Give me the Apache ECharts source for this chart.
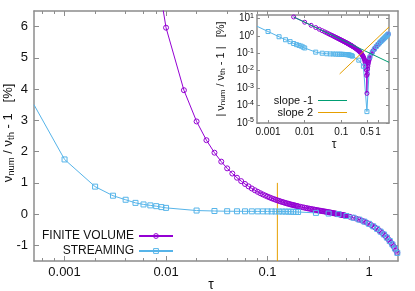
<!DOCTYPE html>
<html><head><meta charset="utf-8">
<script src="https://cdn.jsdelivr.net/npm/echarts@6/dist/echarts.min.js"></script>
<style>html,body{margin:0;padding:0;background:#fff}#c{width:415px;height:291px}</style>
</head><body><div id="c"></div>
<script>
// ---- data ----
const fvTau = [0.005,0.01,0.015,0.02,0.025,0.03,0.035,0.04,0.045,0.05,0.055,0.06,0.065,0.07,0.075,0.08,0.085,0.09,0.095,0.1,
  0.105,0.11,0.115,0.12,0.125,0.13,0.135,0.14,0.145,0.15,0.155,0.16,0.165,0.17,0.175,0.18,0.185,0.19,0.195,0.2,
  0.21,0.22,0.23,0.24,0.25,0.26,0.27,0.28,0.29,0.3,0.31,0.32,0.33,0.34,0.35,0.36,0.37,0.38,0.39,0.4,
  0.41,0.42,0.43,0.44,0.45,0.46,0.47,0.48,0.49,0.5,0.51,0.52,0.53,0.54,0.55,0.56,0.57,0.58,0.59,0.6,
  0.65,0.7,0.75,0.8,0.85,0.9,0.95,1.0,1.05,1.1,1.15,1.2,1.25,1.3,1.35,1.4,1.45,1.5,1.55,1.6,1.65,1.7,1.75,1.8,1.85,1.9];
const fvVal = [11.97,5.966,3.966,2.966,2.366,1.966,1.680,1.465,1.299,1.165,1.056,0.965,0.888,0.821,0.764,0.714,0.669,0.630,0.594,0.562,
  0.534,0.507,0.483,0.461,0.441,0.422,0.404,0.388,0.373,0.358,0.345,0.332,0.320,0.309,0.298,0.288,0.279,0.269,0.261,0.252,
  0.236,0.222,0.209,0.196,0.184,0.173,0.163,0.153,0.144,0.135,0.126,0.118,0.110,0.102,0.095,0.088,0.081,0.074,0.067,0.061,
  0.054,0.048,0.042,0.035,0.029,0.023,0.017,0.011,0.0053,-0.0005,-0.0064,-0.0122,-0.018,-0.0238,-0.0296,-0.0354,-0.0411,-0.047,-0.0527,-0.0586,
  -0.086,-0.115,-0.145,-0.175,-0.207,-0.240,-0.274,-0.310,-0.349,-0.390,-0.430,-0.470,-0.515,-0.560,-0.605,-0.650,-0.700,-0.750,-0.805,-0.860,-0.915,-0.970,-1.035,-1.100,-1.170,-1.240];
const stTau = [0.0005,0.001,0.002,0.003,0.004,0.005,0.006,0.007,0.008,0.009,
  0.01,0.02,0.03,0.04,0.05,0.06,0.07,0.08,0.09,0.1,0.11,0.12,0.13,0.14,0.15,0.16,0.17,0.18,0.19,0.2,
  0.3,0.4,0.5,0.6,0.7,0.8,0.9,1.0,1.1,1.2,1.3,1.4,1.5,1.6,1.7,1.8,1.9];
const stVal = [3.5,1.75,0.88,0.59,0.46,0.36,0.31,0.28,0.255,0.225,
  0.20,0.115,0.10,0.093,0.091,0.09,0.089,0.088,0.088,0.087,0.086,0.085,0.084,0.083,0.082,0.080,0.078,0.075,0.072,0.068,
  0.04,0.018,-0.000045,-0.06,-0.115,-0.175,-0.24,-0.31,-0.39,-0.47,-0.56,-0.65,-0.75,-0.86,-0.97,-1.10,-1.24];
const slopeM1Tau = [0.005, 2.0];
const slopeM1Val = [12, 0.03];
const slope2Tau = [0.09, 2.0];
const slope2Val = [0.00648, 3.2];
const markTau = [0.125, 0.125];
const markVal = [1, -1.5];
const mainXTicks = [0.001, 0.01, 0.1, 1];
const mainXMinor = [0.0006,0.0008,0.002,0.004,0.006,0.008,0.02,0.04,0.06,0.08,0.2,0.4,0.6,0.8];
const mainYTicks = [-1, 0, 1, 2, 3, 4, 5, 6];
const insetXTicks = [0.001, 0.01, 0.1, 0.5, 1];
const insetYTicks = [1e-5, 1e-4, 1e-3, 1e-2, 1e-1, 1, 10];

// ---- styles ----
const FONT = 'Liberation Sans, Arial, Helvetica, sans-serif';
const GRAY = '#8c8c8c';
const PURPLE = '#9400d3', BLUE = '#56b4e9', GREEN = '#009e73', ORANGE = '#e69f00';
const TXT = '#111';

const pairs = (xs, ys, f) => xs.map((x, i) => [x, f ? f(ys[i]) : ys[i]]);
const fmtNum = v => String(+Number(v).toPrecision(6));

function xAx(o) {
  const base = {
    type: 'log', logBase: 10, splitLine: {show: false},
    axisTick: {show: true, inside: true, length: 5, lineStyle: {color: GRAY, width: 1}},
    axisLabel: {show: false}
  };
  const r = Object.assign(base, o);
  r.axisLine = Object.assign({onZero: false, lineStyle: {color: GRAY, width: 1.5}}, o.axisLine || {show: true});
  return r;
}

const option = {
  animation: false,
  backgroundColor: '#fff',
  textStyle: {fontFamily: FONT},
  grid: [
    {left: 34, top: 11, right: 17, bottom: 30, containLabel: false, outerBoundsMode: 'none'},
    {left: 257, top: 15, width: 132, height: 108, containLabel: false, outerBoundsMode: 'none',
      show: true, backgroundColor: '#fff', borderWidth: 0, z: 10}
  ],
  xAxis: [
    xAx({gridIndex: 0, position: 'bottom', min: 0.0005, max: 1.93,
      axisTick: {show: true, inside: true, length: 5, customValues: mainXTicks, lineStyle: {color: GRAY}},
      axisLabel: {show: true, customValues: mainXTicks, formatter: fmtNum, fontSize: 13, margin: 5, color: TXT, fontFamily: FONT, hideOverlap: false},
      name: 'τ', nameLocation: 'middle', nameGap: 17, nameMoveOverlap: false,
      nameTextStyle: {fontSize: 14, color: TXT, fontFamily: FONT, padding: [0, 10, 0, 0]}}),
    xAx({gridIndex: 0, position: 'top', min: 0.0005, max: 1.93,
      axisTick: {show: true, inside: true, length: 5, customValues: mainXTicks, lineStyle: {color: GRAY}}}),
    xAx({gridIndex: 0, position: 'bottom', min: 0.0005, max: 1.93, axisLine: {show: false},
      axisTick: {show: true, inside: true, length: 3, customValues: mainXMinor, lineStyle: {color: GRAY}}}),
    xAx({gridIndex: 0, position: 'top', min: 0.0005, max: 1.93, axisLine: {show: false},
      axisTick: {show: true, inside: true, length: 3, customValues: mainXMinor, lineStyle: {color: GRAY}}}),
    xAx({gridIndex: 1, position: 'bottom', min: 0.0005, max: 2.0, z: 11,
      axisTick: {show: true, inside: true, length: 3, customValues: insetXTicks, lineStyle: {color: GRAY}},
      axisLabel: {show: true, customValues: insetXTicks, formatter: fmtNum, fontSize: 10, margin: 4, color: TXT, fontFamily: FONT, hideOverlap: false},
      name: 'τ', nameLocation: 'middle', nameGap: 16, nameTextStyle: {fontSize: 12, color: TXT, fontFamily: FONT, padding: [0, 0, 0, 22]}}),
    xAx({gridIndex: 1, position: 'top', min: 0.0005, max: 2.0, z: 11,
      axisTick: {show: true, inside: true, length: 3, customValues: insetXTicks, lineStyle: {color: GRAY}}})
  ],
  yAxis: [
    {gridIndex: 0, type: 'value', position: 'left', min: -1.5, max: 6.5, splitLine: {show: false},
      axisLine: {show: true, onZero: false, lineStyle: {color: GRAY, width: 1.5}},
      axisTick: {show: true, inside: true, length: 5, customValues: mainYTicks, lineStyle: {color: GRAY}},
      axisLabel: {customValues: mainYTicks, fontSize: 13, margin: 6, color: TXT, fontFamily: FONT, hideOverlap: false},
      name: '{n|ν}{s|num}{n| / ν}{s|th}{n| - 1   [%]}', nameLocation: 'middle', nameGap: 18, nameRotate: 90, nameMoveOverlap: false,
      nameTextStyle: {padding: [0, 0, 0, 6], rich: {
        n: {fontSize: 13, lineHeight: 15, color: TXT, fontFamily: FONT},
        s: {fontSize: 9.5, lineHeight: 6, verticalAlign: 'bottom', color: TXT, fontFamily: FONT}}}},
    {gridIndex: 0, type: 'value', position: 'right', min: -1.5, max: 6.5, splitLine: {show: false},
      axisLine: {show: true, onZero: false, lineStyle: {color: GRAY, width: 1.5}},
      axisTick: {show: true, inside: true, length: 5, customValues: mainYTicks, lineStyle: {color: GRAY}},
      axisLabel: {show: false}},
    {gridIndex: 1, type: 'log', logBase: 10, position: 'left', min: 1e-5, max: 15.5, splitLine: {show: false}, z: 11,
      axisLine: {show: true, onZero: false, lineStyle: {color: GRAY, width: 1.5}},
      axisTick: {show: true, inside: true, length: 3, customValues: insetYTicks, lineStyle: {color: GRAY}},
      axisLabel: {customValues: insetYTicks, margin: 3, color: TXT, fontFamily: FONT, hideOverlap: false,
        formatter: v => '{b|10}{e|' + Math.round(Math.log10(v)) + '}',
        rich: {b: {fontSize: 10, lineHeight: 12, color: TXT, fontFamily: FONT},
               e: {fontSize: 7, lineHeight: 8, verticalAlign: 'top', color: TXT, fontFamily: FONT}}},
      name: '{n|| ν}{s|num}{n| / ν}{s|th}{n| - 1 |   [%]}', nameLocation: 'middle', nameGap: 30, nameRotate: 90,
      nameTextStyle: {rich: {
        n: {fontSize: 11, lineHeight: 13, color: TXT, fontFamily: FONT},
        s: {fontSize: 8, lineHeight: 5, verticalAlign: 'bottom', color: TXT, fontFamily: FONT}}}},
    {gridIndex: 1, type: 'log', logBase: 10, position: 'right', min: 1e-5, max: 15.5, splitLine: {show: false}, z: 11,
      axisLine: {show: true, onZero: false, lineStyle: {color: GRAY, width: 1.5}},
      axisTick: {show: true, inside: true, length: 3, customValues: insetYTicks, lineStyle: {color: GRAY}},
      axisLabel: {show: false}}
  ],
  legend: [
    {data: [
        {name: 'FINITE VOLUME', itemStyle: {color: 'rgba(0,0,0,0)', borderColor: PURPLE, borderWidth: 1}},
        {name: 'STREAMING', itemStyle: {color: 'rgba(0,0,0,0)', borderColor: BLUE, borderWidth: 1}}],
      orient: 'vertical', align: 'right', right: 241, top: 230,
      itemWidth: 34, itemHeight: 6, itemGap: 3, padding: 0,
      textStyle: {fontSize: 12, color: TXT, fontFamily: FONT}},
    {data: [{name: 'slope -1', icon: 'rect'}, {name: 'slope 2', icon: 'rect'}], orient: 'vertical', align: 'right',
      right: 68, top: 95, itemWidth: 29, itemHeight: 1, itemGap: 1, padding: 0, z: 12,
      textStyle: {fontSize: 11, color: TXT, fontFamily: FONT}}
  ],
  series: [
    {name: 'FINITE VOLUME', type: 'line', xAxisIndex: 0, yAxisIndex: 0, data: pairs(fvTau, fvVal),
      symbol: 'circle', symbolSize: 5, clip: true,
      lineStyle: {color: PURPLE, width: 1}, itemStyle: {color: 'rgba(148,0,211,0)', borderColor: PURPLE, borderWidth: 1}},
    {name: 'STREAMING', type: 'line', xAxisIndex: 0, yAxisIndex: 0,
      data: pairs(stTau, stVal).map((p, i) => i === 0 ? {value: p, symbol: 'none'} : p),
      symbol: 'rect', symbolSize: 5, clip: true,
      lineStyle: {color: BLUE, width: 1}, itemStyle: {color: 'rgba(86,180,233,0)', borderColor: BLUE, borderWidth: 1}},
    {name: 'mark', type: 'line', xAxisIndex: 0, yAxisIndex: 0, data: pairs(markTau, markVal),
      symbol: 'none', lineStyle: {color: ORANGE, width: 1}},
    {name: 'FINITE VOLUME |abs|', type: 'line', xAxisIndex: 4, yAxisIndex: 2, z: 12,
      data: pairs(fvTau, fvVal, Math.abs), symbol: 'circle', symbolSize: 4, clip: true,
      lineStyle: {color: PURPLE, width: 1}, itemStyle: {color: 'rgba(148,0,211,0)', borderColor: PURPLE, borderWidth: 1}},
    {name: 'STREAMING |abs|', type: 'line', xAxisIndex: 4, yAxisIndex: 2, z: 12,
      data: pairs(stTau, stVal, Math.abs).map((p, i) => i === 0 ? {value: p, symbol: 'none'} : p),
      symbol: 'rect', symbolSize: 4, clip: true,
      lineStyle: {color: BLUE, width: 1}, itemStyle: {color: 'rgba(86,180,233,0)', borderColor: BLUE, borderWidth: 1}},
    {name: 'slope -1', type: 'line', xAxisIndex: 4, yAxisIndex: 2, z: 13, data: pairs(slopeM1Tau, slopeM1Val),
      symbol: 'none', lineStyle: {color: GREEN, width: 1}, itemStyle: {color: GREEN}},
    {name: 'slope 2', type: 'line', xAxisIndex: 4, yAxisIndex: 2, z: 13, data: pairs(slope2Tau, slope2Val),
      symbol: 'none', lineStyle: {color: ORANGE, width: 1}, itemStyle: {color: ORANGE}}
  ]
};
const chart = echarts.init(document.getElementById('c'), null, {renderer: 'canvas'});
chart.setOption(option);
</script></body></html>
